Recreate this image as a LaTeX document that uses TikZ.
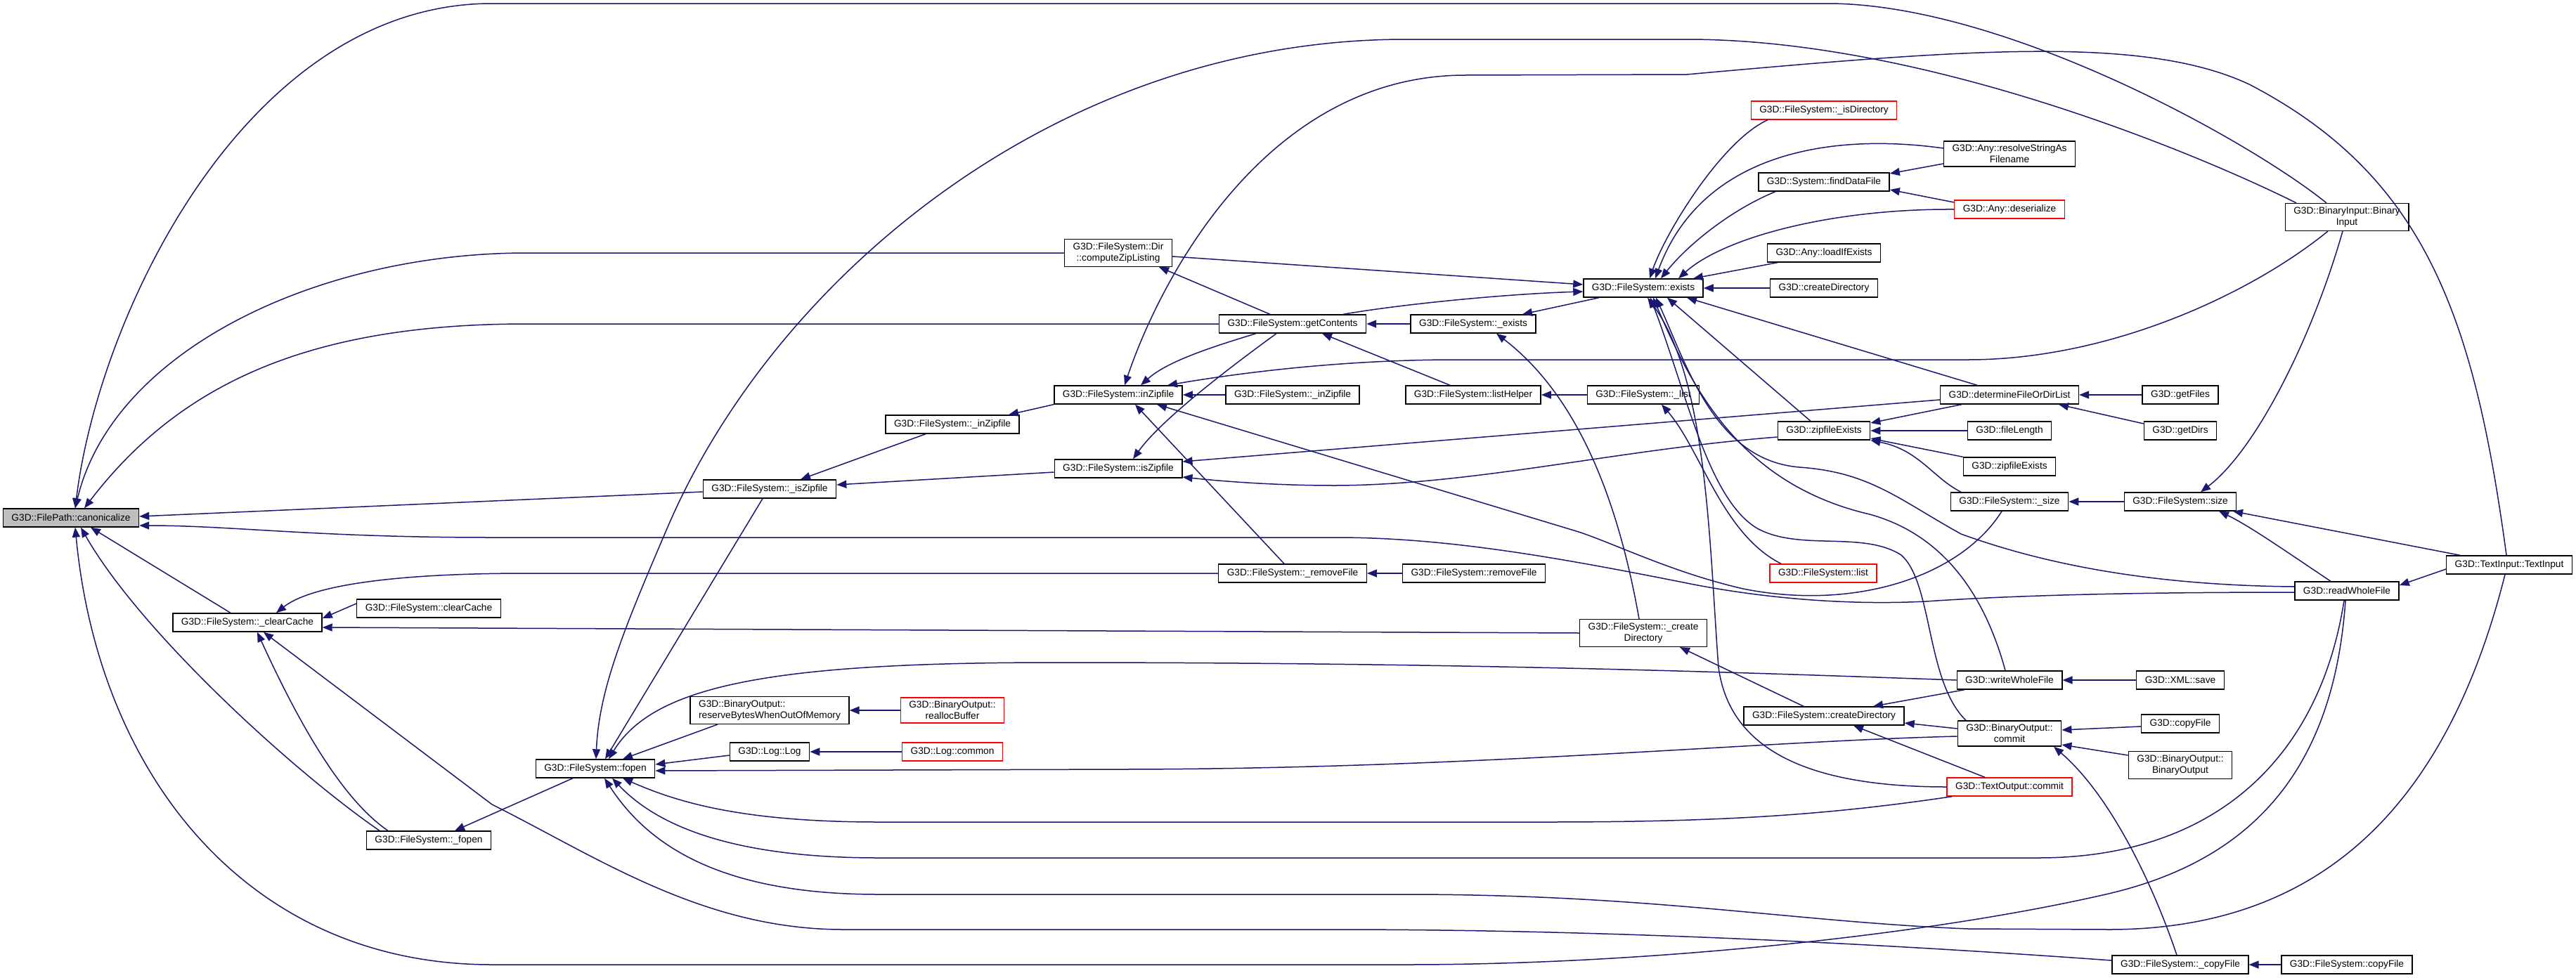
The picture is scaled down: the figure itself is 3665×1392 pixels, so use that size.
\documentclass[tikz,border=0pt]{standalone}
\usepackage{fontspec}
\setmainfont{Liberation Sans}
\usepackage{tikz}
\usetikzlibrary{arrows.meta}
\definecolor{navyline}{RGB}{25,25,112}
\definecolor{rootgray}{RGB}{191,191,191}
\newcommand\fnfont{\fontsize{13.7}{16}\selectfont}
\tikzset{
	fnbox/.style={draw=black, line width=1.4pt, fill=white, font=\fnfont, inner xsep=12pt, inner ysep=5pt, minimum height=26pt, align=center},
	fnred/.style={fnbox, draw=red},
	fnroot/.style={fnbox, fill=rootgray},
	call/.style={draw=navyline, line width=1.5pt, -{Triangle[length=14pt, width=11pt]}, fill=none},
}

\begin{document}
\begin{tikzpicture}[x=1pt, y=-1pt, >=Triangle]
	\fill[white] (0,0) rectangle (3665,1392);
	\useasboundingbox (0,0) rectangle (3665,1392);

	% Root and first callers
	\node[fnroot] (canon) at (101,737) {G3D::FilePath::canonicalize};
	\node[fnbox] (pclear) at (352,886) {G3D::FileSystem::\_clearCache};
	\node[fnbox] (clear) at (610,866) {G3D::FileSystem::clearCache};
	\node[fnbox] (pfopen) at (610,1196) {G3D::FileSystem::\_fopen};
	\node[fnbox] (fopen) at (847,1094) {G3D::FileSystem::fopen};
	\node[fnbox] (piszip) at (1095,696) {G3D::FileSystem::\_isZipfile};
	\node[fnbox, align=left] (reserve) at (1095,1011) {G3D::BinaryOutput::\\reserveBytesWhenOutOfMemory};
	\node[fnred] (realloc) at (1355,1011) {G3D::BinaryOutput::\\reallocBuffer};
	\node[fnbox] (logctor) at (1095,1070) {G3D::Log::Log};
	\node[fnred] (logcommon) at (1355,1070) {G3D::Log::common};
	\node[fnbox] (pinzipa) at (1355,604) {G3D::FileSystem::\_inZipfile};

	% Zip and contents helpers
	\node[fnbox] (czl) at (1591,360) {G3D::FileSystem::Dir\\::computeZipListing};
	\node[fnbox] (inzip) at (1591,562) {G3D::FileSystem::inZipfile};
	\node[fnbox] (iszip) at (1591,667) {G3D::FileSystem::isZipfile};
	\node[fnbox] (getc) at (1839,461) {G3D::FileSystem::getContents};
	\node[fnbox] (pinzipb) at (1839,562) {G3D::FileSystem::\_inZipfile};
	\node[fnbox] (premove) at (1839,816) {G3D::FileSystem::\_removeFile};
	\node[fnbox] (pexists) at (2096,461) {G3D::FileSystem::\_exists};
	\node[fnbox] (listhelper) at (2096,562) {G3D::FileSystem::listHelper};
	\node[fnbox] (remove) at (2097,816) {G3D::FileSystem::removeFile};
	\node[fnbox] (exists) at (2338,410) {G3D::FileSystem::exists};
	\node[fnbox] (plist) at (2338,562) {G3D::FileSystem::\_list};
	\node[fnbox] (pcreate) at (2338,901) {G3D::FileSystem::\_create\\Directory};

	% Callers of exists
	\node[fnred] (isdir) at (2595,157) {G3D::FileSystem::\_isDirectory};
	\node[fnbox] (finddata) at (2595,259) {G3D::System::findDataFile};
	\node[fnbox] (loadif) at (2595,360) {G3D::Any::loadIfExists};
	\node[fnbox] (gcreate) at (2595,410) {G3D::createDirectory};
	\node[fnbox] (zipex) at (2595,613) {G3D::zipfileExists};
	\node[fnred] (fslist) at (2594,816) {G3D::FileSystem::list};
	\node[fnbox] (fscreate) at (2595,1019) {G3D::FileSystem::createDirectory};
	\node[fnbox] (resolve) at (2859,219) {G3D::Any::resolveStringAs\\Filename};
	\node[fnred] (deser) at (2859,298) {G3D::Any::deserialize};
	\node[fnbox] (dfodl) at (2859,562) {G3D::determineFileOrDirList};
	\node[fnbox] (filelen) at (2859,613) {G3D::fileLength};
	\node[fnbox] (zipex2) at (2859,664) {G3D::zipfileExists};
	\node[fnbox] (psize) at (2859,714) {G3D::FileSystem::\_size};
	\node[fnbox] (wwf) at (2859,968) {G3D::writeWholeFile};
	\node[fnbox] (bocommit) at (2859,1044) {G3D::BinaryOutput::\\commit};
	\node[fnred] (tocommit) at (2859,1120) {G3D::TextOutput::commit};

	% Outer callers
	\node[fnbox] (getfiles) at (3102,562) {G3D::getFiles};
	\node[fnbox] (getdirs) at (3102,613) {G3D::getDirs};
	\node[fnbox] (fssize) at (3102,714) {G3D::FileSystem::size};
	\node[fnbox] (xmlsave) at (3102,968) {G3D::XML::save};
	\node[fnbox] (copyfile) at (3102,1030) {G3D::copyFile};
	\node[fnbox] (boctor) at (3102,1089) {G3D::BinaryOutput::\\BinaryOutput};
	\node[fnbox] (pcopy) at (3102,1373) {G3D::FileSystem::\_copyFile};
	\node[fnbox] (binin) at (3339,309) {G3D::BinaryInput::Binary\\Input};
	\node[fnbox] (rwf) at (3339,841) {G3D::readWholeFile};
	\node[fnbox] (fscopy) at (3339,1373) {G3D::FileSystem::copyFile};
	\node[fnbox] (textin) at (3570,804) {G3D::TextInput::TextInput};

	% Into canonicalize
	\draw[call] ([xshift=-29pt]binin.north) .. controls (3200,200) and (2850,5) .. (2600,5) -- (700,5) .. controls (350,5) and (140,450) .. ([xshift=6pt]canon.north);
	\draw[call] (czl.west) -- (750,360) .. controls (450,360) and (160,500) .. ([xshift=6pt]canon.north);
	\draw[call] (getc.west) -- (750,461) .. controls (450,461) and (260,540) .. ([xshift=19pt]canon.north);
	\draw[call] ([yshift=-4pt]piszip.west) -- ([yshift=2pt]canon.east);
	\draw[call] ([yshift=-2pt]rwf.west) .. controls (3100,843) and (2900,845) .. (2740,856) .. controls (2620,862) and (2500,850) .. (2400,830) .. controls (2200,790) and (2050,765) .. (1900,765) -- (700,765) .. controls (450,765) and (330,748) .. ([yshift=-11pt]canon.east);
	\draw[call] ([xshift=-24pt]pclear.north) -- ([xshift=28pt]canon.south);
	\draw[call] ([xshift=-70pt]pfopen.north) .. controls (420,1100) and (200,900) .. ([xshift=14pt]canon.south);
	\draw[call] ([xshift=-2pt]rwf.south) .. controls (3320,1100) and (3200,1225) .. (3000,1272) .. controls (2750,1330) and (2350,1373) .. (2000,1373) -- (700,1373) .. controls (350,1373) and (140,1100) .. ([xshift=6pt]canon.south);

	% Into _clearCache and _fopen
	\draw[call] ([yshift=7pt]clear.west) -- ([yshift=6pt]pclear.east);
	\draw[call] (pcreate.west) -- ([yshift=-7pt]pclear.east);
	\draw[call] (premove.west) -- (750,816) .. controls (550,816) and (440,835) .. ([xshift=41pt]pclear.north);
	\draw[call] ([xshift=-58pt]pfopen.north) .. controls (490,1140) and (430,1040) .. ([xshift=14pt]pclear.south);
	\draw[call] ([yshift=6pt]pcopy.west) .. controls (2700,1345) and (2300,1323) .. (1900,1323) -- (1200,1323) .. controls (1000,1323) and (850,1220) .. (700,1145) -- ([xshift=23pt]pclear.south);
	\draw[call] ([xshift=-32pt]fopen.south) -- ([xshift=37pt]pfopen.north);

	% Into fopen
	\draw[call] ([xshift=-72pt]binin.north) .. controls (3150,230) and (2750,56) .. (2400,56) -- (2000,56) .. controls (1500,56) and (1100,400) .. (950,750) .. controls (890,890) and (852,980) .. ([xshift=1pt]fopen.north);
	\draw[call] ([xshift=-10pt]piszip.south) -- ([xshift=14pt]fopen.north);
	\draw[call] (wwf.west) .. controls (2500,958) and (2100,943) .. (1500,943) .. controls (1100,943) and (930,975) .. ([xshift=19pt]fopen.north);
	\draw[call] ([xshift=-74pt]reserve.south) -- ([xshift=39pt]fopen.north);
	\draw[call] ([yshift=-5pt]logctor.west) -- ([yshift=6pt]fopen.east);
	\draw[call] ([yshift=-4pt]bocommit.west) .. controls (2500,1055) and (2100,1094) .. (1600,1095) -- ([yshift=-3pt]fopen.east);
	\draw[call] ([xshift=-82pt]tocommit.south) .. controls (2600,1160) and (2450,1170) .. (2200,1170) -- (1250,1170) .. controls (1050,1170) and (960,1140) .. ([xshift=39pt]fopen.south);
	\draw[call] ([xshift=-4pt]rwf.south) .. controls (3300,1080) and (3150,1221) .. (2900,1221) -- (1250,1221) .. controls (1030,1221) and (930,1170) .. ([xshift=24pt]fopen.south);
	\draw[call] ([xshift=-6pt]textin.south) .. controls (3480,1150) and (3300,1323) .. (3000,1323) -- (2800,1322) .. controls (2550,1312) and (2350,1273) .. (2000,1273) -- (1250,1273) .. controls (1020,1273) and (920,1200) .. ([xshift=13pt]fopen.south);

	% Zip file helpers
	\draw[call] ([xshift=-38pt]pinzipa.south) -- ([xshift=44pt]piszip.north);
	\draw[call] ([yshift=-5pt]iszip.west) -- ([yshift=6pt]piszip.east);
	\draw[call] (realloc.west) -- (reserve.east);
	\draw[call] (logcommon.west) -- (logctor.east);
	\draw[call] (inzip.south west) -- ([xshift=80pt]pinzipa.north);
	\draw[call] ([xshift=-32pt]getc.north) -- ([xshift=58pt]czl.south);
	\draw[call] ([xshift=-4pt]textin.north) .. controls (3520,450) and (3450,250) .. (3200,120) .. controls (3050,50) and (2800,70) .. (2400,106) -- (2085,107) .. controls (1800,107) and (1650,400) .. ([xshift=9pt]inzip.north);
	\draw[call] ([xshift=-52pt]getc.south) .. controls (1720,495) and (1660,515) .. ([xshift=32pt]inzip.north);
	\draw[call] ([xshift=-27pt]binin.south) .. controls (3200,420) and (3000,512) .. (2800,512) -- (2070,512) .. controls (1900,512) and (1750,533) .. ([xshift=70pt]inzip.north);
	\draw[call] (pinzipb.west) -- (inzip.east);
	\draw[call] ([xshift=-12pt]premove.north) -- ([xshift=24pt]inzip.south);
	\draw[call] ([xshift=-11pt]psize.south) .. controls (2790,820) and (2640,870) .. (2480,838) .. controls (2380,815) and (2300,775) .. (2246,757) -- ([xshift=55pt]inzip.south);
	\draw[call] ([xshift=-23pt]getc.south) .. controls (1740,530) and (1650,600) .. ([xshift=21pt]iszip.north);
	\draw[call] ([yshift=-7pt]dfodl.west) -- ([yshift=10pt]iszip.east);
	\draw[call] ([yshift=-9pt]zipex.west) .. controls (2300,640) and (2100,690) .. (1900,691) .. controls (1800,691) and (1720,683) .. ([yshift=-12pt]iszip.east);

	% getContents, _exists, lists
	\draw[call] (pexists.west) -- (getc.east);
	\draw[call] ([xshift=-33pt]listhelper.north) -- ([xshift=42pt]getc.south);
	\draw[call] ([xshift=-63pt]exists.south) -- ([xshift=70pt]pexists.north);
	\draw[call] ([xshift=-6pt]pcreate.north) .. controls (2300,700) and (2240,560) .. ([xshift=33pt]pexists.south);
	\draw[call] (plist.west) -- (listhelper.east);
	\draw[call] (remove.west) -- (premove.east);
	\draw[call] ([xshift=-60pt]fslist.north) .. controls (2450,760) and (2420,640) .. ([xshift=26pt]plist.south);

	% Into exists
	\draw[call] ([yshift=-5pt]czl.east) -- ([yshift=5pt]exists.west);
	\draw[call] ([xshift=72pt]getc.north) .. controls (2000,432) and (2150,418) .. ([yshift=-5pt]exists.west);
	\draw[call] ([xshift=-80pt]isdir.south) .. controls (2450,200) and (2370,330) .. ([xshift=9pt]exists.north);
	\draw[call] ([yshift=8pt]resolve.west) .. controls (2600,188) and (2420,220) .. ([xshift=17pt]exists.north);
	\draw[call] ([xshift=-69pt]finddata.south) .. controls (2460,300) and (2400,350) .. ([xshift=25pt]exists.north);
	\draw[call] (deser.west) .. controls (2600,297) and (2450,340) .. ([xshift=50pt]exists.north);
	\draw[call] ([xshift=-66pt]loadif.south) -- ([xshift=71pt]exists.north);
	\draw[call] (gcreate.west) -- (exists.east);
	\draw[call] ([xshift=-46pt]dfodl.north) -- ([xshift=62pt]exists.south);
	\draw[call] ([xshift=-19pt]zipex.north) -- ([xshift=34pt]exists.south);
	\draw[call] ([yshift=6pt]rwf.west) .. controls (3050,833) and (2900,800) .. (2790,760) .. controls (2700,710) and (2660,672) .. (2560,665) .. controls (2440,655) and (2400,520) .. ([xshift=18pt]exists.south);
	\draw[call] ([xshift=-6pt]wwf.north) .. controls (2830,870) and (2780,765) .. (2660,732) .. controls (2480,690) and (2410,560) .. ([xshift=14pt]exists.south);
	\draw[call] ([xshift=-62pt]bocommit.north) .. controls (2740,970) and (2750,830) .. (2705,790) .. controls (2650,755) and (2560,785) .. (2500,752) .. controls (2430,710) and (2400,560) .. ([xshift=10pt]exists.south);
	\draw[call] (tocommit.west) .. controls (2560,1120) and (2460,1060) .. (2445,950) .. controls (2432,780) and (2430,540) .. ([xshift=6pt]exists.south);
	\draw[call] ([yshift=-14pt]resolve.west) -- ([yshift=12pt]finddata.east);
	\draw[call] ([yshift=10pt]deser.west) -- ([yshift=-11pt]finddata.east);

	% Directory creation and output
	\draw[call] ([xshift=-29pt]fscreate.north) -- ([xshift=52pt]pcreate.south);
	\draw[call] ([xshift=-64pt]wwf.south) -- ([xshift=70pt]fscreate.north);
	\draw[call] ([yshift=7pt]bocommit.west) -- ([yshift=-10pt]fscreate.east);
	\draw[call] ([xshift=-35pt]tocommit.north) -- ([xshift=42pt]fscreate.south);
	\draw[call] (xmlsave.west) -- (wwf.east);
	\draw[call] ([yshift=-4pt]copyfile.west) -- ([yshift=5pt]bocommit.east);
	\draw[call] ([yshift=14pt]boctor.west) -- ([yshift=-16pt]bocommit.east);
	\draw[call] ([xshift=-5pt]pcopy.north) .. controls (3060,1250) and (3000,1130) .. ([xshift=63pt]bocommit.south);
	\draw[call] (fscopy.west) -- (pcopy.east);

	% Sizes and listings
	\draw[call] (fssize.west) -- (psize.east);
	\draw[call] ([xshift=-69pt]psize.north) .. controls (2750,680) and (2730,640) .. (zipex.south east);
	\draw[call] ([xshift=-68pt]dfodl.south) -- ([yshift=11pt]zipex.east);
	\draw[call] (filelen.west) -- (zipex.east);
	\draw[call] (zipex2.north west) -- ([yshift=-11pt]zipex.east);
	\draw[call] (getfiles.west) -- (dfodl.east);
	\draw[call] ([yshift=10pt]getdirs.west) -- ([xshift=70pt]dfodl.south);
	\draw[call] ([xshift=-6pt]binin.south) .. controls (3290,480) and (3210,640) .. ([xshift=29pt]fssize.north);
	\draw[call] ([xshift=-23pt]rwf.north) .. controls (3260,790) and (3200,748) .. ([xshift=55pt]fssize.south);
	\draw[call] ([xshift=-70pt]textin.north) -- ([xshift=75pt]fssize.south);
	\draw[call] ([yshift=-6pt]textin.west) -- ([yshift=8pt]rwf.east);
\end{tikzpicture}
\end{document}
